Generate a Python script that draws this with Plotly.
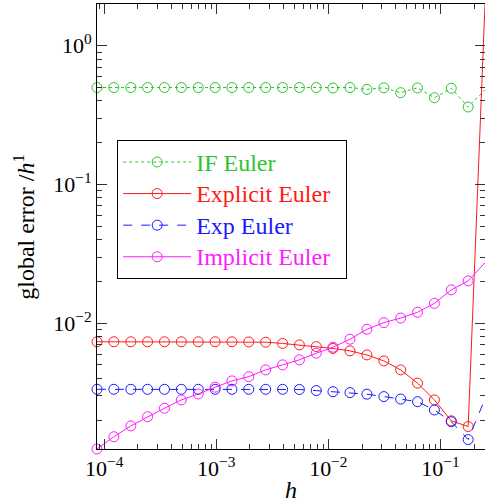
import math
import plotly.graph_objects as go

# step sizes h (x values)
h = [8.63e-5, 1.22e-4, 1.73e-4, 2.44e-4, 3.45e-4, 4.88e-4, 6.91e-4, 9.77e-4,
     1.38e-3, 1.95e-3, 2.76e-3, 3.91e-3, 5.52e-3, 7.81e-3, 1.10e-2, 1.56e-2,
     2.21e-2, 3.13e-2, 4.42e-2, 6.25e-2, 8.84e-2, 0.125, 0.177, 0.25]

if_euler = [0.50, 0.50, 0.50, 0.50, 0.50, 0.50, 0.50, 0.50, 0.50, 0.50, 0.50, 0.50,
            0.50, 0.50, 0.496, 0.50, 0.485, 0.498, 0.459, 0.497, 0.422, 0.494, 0.362, 0.48]
explicit_euler = [7.35e-3, 7.35e-3, 7.35e-3, 7.35e-3, 7.35e-3, 7.35e-3, 7.35e-3, 7.35e-3,
                  7.35e-3, 7.33e-3, 7.30e-3, 7.15e-3, 6.98e-3, 6.78e-3, 6.58e-3, 6.32e-3,
                  5.91e-3, 5.35e-3, 4.61e-3, 3.70e-3, 2.80e-3, 1.98e-3, 1.80e-3, 2.0]
exp_euler = [3.34e-3, 3.34e-3, 3.34e-3, 3.34e-3, 3.34e-3, 3.34e-3, 3.34e-3, 3.34e-3,
             3.34e-3, 3.34e-3, 3.34e-3, 3.34e-3, 3.33e-3, 3.27e-3, 3.21e-3, 3.16e-3,
             3.08e-3, 2.96e-3, 2.84e-3, 2.72e-3, 2.37e-3, 1.95e-3, 1.45e-3, 2.85e-3]
implicit_euler = [1.24e-3, 1.52e-3, 1.82e-3, 2.12e-3, 2.44e-3, 2.80e-3, 3.09e-3, 3.46e-3,
                  3.84e-3, 4.12e-3, 4.61e-3, 5.01e-3, 5.45e-3, 6.08e-3, 6.71e-3, 7.67e-3,
                  9.05e-3, 1.01e-2, 1.09e-2, 1.20e-2, 1.39e-2, 1.74e-2, 2.02e-2, 2.73e-2]

names = ["IF Euler", "Explicit Euler", "Exp Euler", "Implicit Euler"]
colors = ["#2ec42e", "#ff1a1a", "#1a1aff", "#ff1aff"]
dashes = ["dot", "solid", "dash", "solid"]
series = [if_euler, explicit_euler, exp_euler, implicit_euler]

x_major = [1e-4, 1e-3, 1e-2, 1e-1]
x_major_text = ["10<sup>\u22124</sup>", "10<sup>\u22123</sup>", "10<sup>\u22122</sup>", "10<sup>\u22121</sup>"]
y_major = [1e-2, 1e-1, 1e0]
y_major_text = ["10<sup>\u22122</sup>", "10<sup>\u22121</sup>", "10<sup>0</sup>"]

FONT = "Liberation Serif"

fig = go.Figure()
for name, col, dsh, ys in zip(names, colors, dashes, series):
    fig.add_trace(go.Scatter(
        x=h, y=ys, mode="lines+markers",
        name='<span style="color:%s;font-size:24px">%s</span>&nbsp;&nbsp;' % (col, name),
        line=dict(color=col, width=1, dash=dsh),
        marker=dict(symbol="circle-open", size=10, color=col, line=dict(width=1, color=col)),
        cliponaxis=False,
    ))

x_minor = [k * 10.0 ** e for e in range(-5, 1) for k in range(2, 10)]
y_minor = [k * 10.0 ** e for e in range(-4, 1) for k in range(2, 10)]

allv = if_euler + explicit_euler + exp_euler + implicit_euler
yr = [math.log10(min(allv)), math.log10(max(allv))]
xr = [math.log10(h[0]), math.log10(h[-1])]

axis_common = dict(
    type="log", showgrid=False, zeroline=False, showline=True, linecolor="black", linewidth=1,
    mirror="allticks", ticks="inside", ticklen=10, tickwidth=1, tickcolor="#333",
    tickfont=dict(family=FONT, size=22, color="black"),
)

fig.update_xaxes(range=xr, tickmode="array", tickvals=x_major, ticktext=x_major_text,
                 minor=dict(tickmode="array", tickvals=x_minor, ticks="inside", ticklen=5,
                            tickcolor="#333", showgrid=False),
                 **axis_common)
fig.update_yaxes(range=yr, tickmode="array", tickvals=y_major, ticktext=y_major_text,
                 minor=dict(tickmode="array", tickvals=y_minor, ticks="inside", ticklen=5,
                            tickcolor="#333", showgrid=False),
                 **axis_common)

fig.update_layout(
    width=485, height=503,
    margin=dict(l=97, r=0, t=4, b=54),
    paper_bgcolor="white", plot_bgcolor="white",
    font=dict(family=FONT, size=22, color="black"),
    showlegend=True,
    legend=dict(x=0.052, y=0.694, xanchor="left", yanchor="top",
                bgcolor="white", bordercolor="black", borderwidth=1,
                font=dict(family=FONT, size=22), itemwidth=68),
    annotations=[
        dict(text="global error /<i>h</i><sup>1</sup>", xref="paper", yref="paper",
             x=-0.19, y=0.5, xanchor="center", yanchor="middle", textangle=-90,
             showarrow=False, font=dict(family=FONT, size=24)),
        dict(text="<i>h</i>", xref="paper", yref="paper", x=0.5, y=-0.092,
             xanchor="center", yanchor="middle", showarrow=False,
             font=dict(family=FONT, size=24)),
    ],
)

fig.write_html("out.html", config={"displayModeBar": False},
               post_script="document.body.style.margin='0px';document.body.style.overflow='hidden';")
